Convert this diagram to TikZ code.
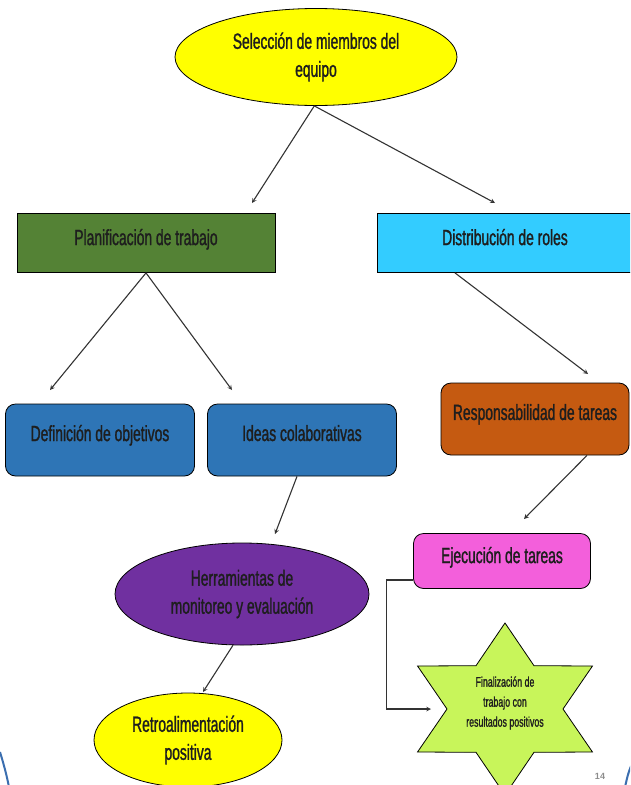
\documentclass[tikz,border=0pt]{standalone}
\usepackage{fontspec}
\setmainfont[FakeStretch=0.63, FakeBold=1.2]{Liberation Sans}
\newfontfamily\numfont{Liberation Sans}
\usetikzlibrary{shapes.geometric, arrows}
\definecolor{amarillo}{HTML}{FFFF00}
\definecolor{verde}{HTML}{548235}
\definecolor{celeste}{HTML}{33CCFF}
\definecolor{azul}{HTML}{2E75B6}
\definecolor{naranja}{HTML}{C55A11}
\definecolor{rosa}{HTML}{F35FDB}
\definecolor{morado}{HTML}{7030A0}
\definecolor{lima}{HTML}{C8F55A}
\definecolor{texto}{HTML}{1E1E1E}
\definecolor{marco}{HTML}{3B6EAF}
\tikzstyle{elli} = [ellipse, draw, align=center, text=texto, line width=0.8pt]
\tikzstyle{blockp} = [rectangle, draw, minimum width=258pt, minimum height=59pt, fill=verde, text=texto, line width=0.8pt, text depth=12pt]
\tikzstyle{blockd} = [rectangle, draw, minimum width=256pt, minimum height=59pt, fill=celeste, text=texto, line width=0.8pt, text depth=12pt]
\tikzstyle{blockr} = [rectangle, draw, rounded corners=10pt, minimum height=72pt, text=texto, line width=0.8pt, text depth=14pt]
\tikzstyle{line} = [draw, ->, >=stealth, line width=1.1pt, black!80]

\begin{document}
\begin{tikzpicture}[x=1pt, y=-1pt, font=\fontsize{22}{28}\selectfont]
\useasboundingbox (0,0) rectangle (630,785);
\clip (0,0) rectangle (630,785);

\node [elli, fill=amarillo, minimum width=282pt, minimum height=97pt] (S) at (316,57) {Selección de miembros del\\equipo};
\node [blockp] (P) at (146,243) {Planificación de trabajo};
\node [blockd] (D) at (505,243) {Distribución de roles};

\node [blockr, fill=azul, minimum width=189pt] (O) at (100,440) {Definición de objetivos};
\node [blockr, fill=azul, minimum width=189pt] (I) at (302,440) {Ideas colaborativas};
\node [blockr, fill=naranja, minimum width=188pt] (R) at (535,419) {Responsabilidad de tareas};
\node [blockr, fill=rosa, minimum width=177pt, minimum height=55pt, text depth=12pt] (E) at (502,561) {Ejecución de tareas};

\node [elli, fill=morado, minimum width=254pt, minimum height=102pt] (H) at (242,594) {Herramientas de\\monitoreo y evaluación};
\node [elli, fill=amarillo, minimum width=188pt, minimum height=94pt] (Rt) at (188,740) {Retroalimentación\\positiva};

% estrella
\begin{scope}[shift={(505,709)}]
\draw [fill=lima, line width=0.8pt] (90:101 and 86) -- (60:58 and 50) -- (30:101 and 86) -- (0:58 and 50) -- (-30:101 and 86) -- (-60:58 and 50) -- (-90:101 and 86) -- (-120:58 and 50) -- (-150:101 and 86) -- (180:58 and 50) -- (150:101 and 86) -- (120:58 and 50) -- cycle;
\end{scope}
\node [align=center, text=texto, font=\fontsize{14}{20}\selectfont] (F) at (505,703) {Finalización de\\trabajo con\\resultados positivos};

\coordinate (0) at (252,203);
\coordinate (1) at (495,203);
\coordinate (2) at (50,390);
\coordinate (3) at (232,390);
\coordinate (4) at (588,374);
\coordinate (5) at (524,519);
\coordinate (6) at (275,534);
\coordinate (7) at (203,692);
\coordinate (8) at (431,709);

\path [line] (S.268) -- (0);
\path [line] (S.268) -- (1);
\path [line] (P.south) -- (2);
\path [line] (P.south) -- (3);
\path [line] ([xshift=-50pt]D.south) -- (4);
\path [line] ([xshift=52pt]R.south) -- (5);
\path [line] ([xshift=-5pt]I.south) -- (6);
\path [line] (H.260) -- (7);
\path [line] ([yshift=-19pt]E.west) -- ++(-27,0) |- (8);

% pagina
\node [text=black!45, font=\numfont\bfseries\fontsize{9}{9}\selectfont] (n) at (600,776) {14};
\draw [marco, line width=2pt] (0,752) .. controls (3,762) and (6,772) .. (9,787);
\draw [marco, line width=2pt] (631,766) .. controls (628,774) .. (625,787);

\end{tikzpicture}
\end{document}
